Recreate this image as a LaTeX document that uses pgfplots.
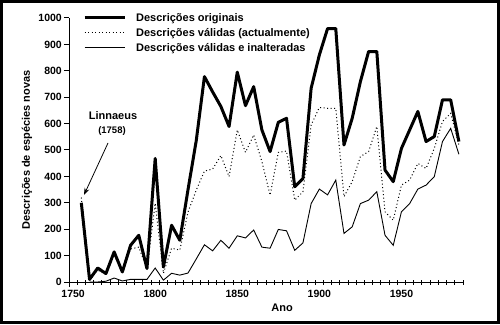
\documentclass[border=0pt]{standalone}
\usepackage{pgfplots}
\usepackage{pgfplotstable}
\pgfplotsset{compat=1.18}
\usepackage{fontspec}
\setmainfont{Liberation Sans}
\usetikzlibrary{arrows.meta}

\pgfplotstableread{
year orig valid unalt
1755 300 320 nan
1760 10 5 0
1765 53 45 0
1770 32 28 3
1775 114 105 15
1780 38 33 4
1785 139 125 10
1790 177 132 10
1795 51 50 10
1800 468 298 53
1805 57 33 7
1810 215 128 33
1815 158 121 26
1820 350 265 34
1825 535 348 87
1830 778 420 141
1835 720 428 118
1840 665 479 158
1845 589 399 128
1850 795 576 175
1855 668 491 167
1860 740 557 197
1865 576 456 132
1870 494 329 128
1875 605 491 199
1880 620 496 194
1885 361 310 120
1890 392 342 148
1895 734 595 297
1900 860 661 352
1905 960 658 330
1910 960 658 386
1915 519 323 184
1920 620 380 209
1925 759 475 297
1930 873 494 310
1935 873 589 342
1940 424 266 177
1945 380 234 139
1950 506 367 266
1955 576 386 297
1960 646 449 352
1965 532 430 367
1970 551 506 399
1975 690 608 532
1980 690 639 582
1985 532 519 484
}\datatable

\begin{document}
\begin{tikzpicture}
\path[use as bounding box] (0,0) rectangle (500pt,324pt);
\begin{axis}[
  at={(69pt,42pt)}, anchor=south west,
  scale only axis, width=394pt, height=264pt,
  xmin=1747.5, xmax=1987.5, ymin=0, ymax=1000,
  axis x line=bottom, axis y line=left,
  axis line style={-, line width=1pt, black},
  xtick={1747.5},
  xticklabels={\empty},
  minor xtick={1747.5,1752.5,...,1987.5},
  extra x ticks={1750,1800,1850,1900,1950},
  extra x tick labels={1750,1800,1850,1900,1950},
  extra x tick style={major tick length=0pt,
    xticklabel style={anchor=center, inner sep=0pt, yshift=-12pt}},
  ytick={0,100,...,1000},
  tick align=outside,
  major tick length=5pt, minor tick length=5pt,
  minor tick style={yshift=2.5pt, line width=1pt, black},
  major tick style={line width=1pt, black},
  /pgf/number format/assume math mode=true,
  /pgf/number format/1000 sep={},
  scaled ticks=false,
  tick label style={font=\fontsize{10.5}{12}\selectfont\bfseries},
  yticklabel style={anchor=east, inner sep=0pt, xshift=-2pt},
  xlabel={Ano}, ylabel={Descrições de espécies novas},
  every axis x label/.style={at={(rel axis cs:0.541,0)}, anchor=center, yshift=-26pt, font=\fontsize{11}{13}\selectfont\bfseries},
  every axis y label/.style={at={(rel axis cs:0,0.5)}, xshift=-42pt, anchor=center, rotate=90, font=\fontsize{11}{13}\selectfont\bfseries},
  legend style={at={(rel axis cs:0.0355,1.023)}, anchor=north west, draw=none, fill=none,
    inner sep=0pt, row sep=4pt, font=\fontsize{11}{13}\selectfont\bfseries,
    nodes={inner sep=0pt, text depth=2pt, text height=9pt},
    /tikz/every odd column/.append style={column sep=10pt}},
  legend image code/.code={\draw[#1] (0pt,0pt) -- (40pt,0pt);},
  legend cell align=left,
  clip=false,
]
\addplot[black, line width=3pt, line join=round] table[x=year, y=orig] {\datatable};
\addlegendentry{Descrições originais}
\addplot[black, line width=1pt, dash pattern=on 1pt off 2.5pt] table[x=year, y=valid] {\datatable};
\addlegendentry{Descrições válidas (actualmente)}
\addplot[black, line width=0.9pt] table[x=year, y=unalt] {\datatable};
\addlegendentry{Descrições válidas e inalteradas}
\end{axis}
\node[font=\fontsize{11}{13}\selectfont\bfseries] at (113pt,208pt) {Linnaeus};
\node[font=\fontsize{9.5}{11}\selectfont\bfseries] at (112pt,193pt) {(1758)};
\draw[line width=0.8pt, -{Stealth[length=7pt,width=5pt]}] (108pt,181pt) -- (84pt,129pt);
\draw[line width=3pt] (1.5pt,1.5pt) rectangle (498.5pt,322.5pt);
\end{tikzpicture}
\end{document}
